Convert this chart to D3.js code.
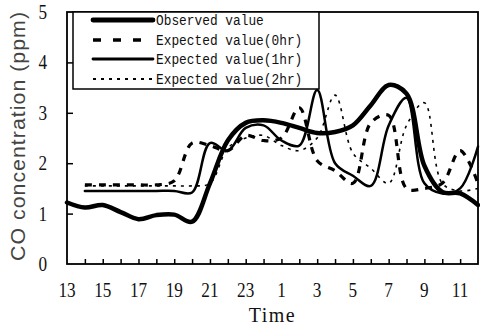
<!DOCTYPE html>
<html>
<head>
<meta charset="utf-8">
<script src="https://cdn.jsdelivr.net/npm/d3@7"></script>
<style>
  html, body { margin: 0; padding: 0; background: #fff; }
  svg { display: block; }
  .tick-lbl { font-family: "Liberation Serif", serif; font-size: 20px; fill: #111; }
  .leg-lbl  { font-family: "Liberation Mono", monospace; font-size: 14.5px; fill: #111; }
</style>
</head>
<body>
<svg id="chart" width="480" height="327"></svg>
<script>
/* hours after 13:00 */
var HOURS = [0, 1, 2, 3, 4, 5, 6, 7, 8, 9, 10, 11, 12, 13, 14, 15, 16, 17, 18, 19, 20, 21, 22, 23];
var TICK_HOURS = [0, 2, 4, 6, 8, 10, 12, 14, 16, 18, 20, 22];
var TICK_LABELS = ["13", "15", "17", "19", "21", "23", "1", "3", "5", "7", "9", "11"];
var Y_TICKS = [0, 1, 2, 3, 4, 5];

var observed = [1.22, 1.12, 1.17, 1.03, 0.89, 0.97, 0.98, 0.84, 1.6, 2.45, 2.8, 2.85,
                2.8, 2.7, 2.6, 2.62, 2.75, 3.15, 3.55, 3.38, 1.95, 1.43, 1.4, 1.17];
var expected0 = [null, 1.57, 1.57, 1.57, 1.57, 1.57, 1.65, 2.4, 2.35, 2.25, 2.55, 2.45,
                 2.5, 3.1, 2.05, 1.85, 1.6, 2.8, 2.95, 1.5, 1.5, 1.6, 2.25, 1.6];
var expected1 = [null, 1.45, 1.45, 1.45, 1.45, 1.45, 1.45, 1.42, 2.4, 2.25, 2.7, 2.75,
                 2.45, 2.35, 3.45, 2.0, 1.75, 1.55, 2.75, 3.3, 1.6, 1.4, 1.5, 2.33];
var expected2 = [null, 1.55, 1.55, 1.55, 1.55, 1.55, 1.55, 1.55, 1.6, 2.3, 2.5, 2.55,
                 2.35, 2.25, 2.5, 3.35, 2.2, 1.9, 1.6, 2.75, 3.2, 1.6, 1.45, 1.5];

var SERIES = [
    { name: "Observed value",       values: observed,  width: 4.5, dash: null },
    { name: "Expected value(0hr)",  values: expected0, width: 3.2, dash: "7,7" },
    { name: "Expected value(1hr)",  values: expected1, width: 2.5, dash: null },
    { name: "Expected value(2hr)",  values: expected2, width: 1.6, dash: "3,5" }
];

var L = 67, R = 478, T = 12, B = 264;
var svg = d3.select("#chart");

var x = d3.scaleLinear().domain([0, 23]).range([L, R]);
var y = d3.scaleLinear().domain([0, 5]).range([B, T]);

/* lines */
var line = d3.line()
    .defined(function (d) { return d.v != null; })
    .x(function (d) { return x(d.h); })
    .y(function (d) { return y(d.v); })
    .curve(d3.curveCatmullRom.alpha(0.5));

SERIES.forEach(function (s) {
    var pts = HOURS.map(function (h, i) { return { h: h, v: s.values[i] }; });
    svg.append("path")
        .datum(pts)
        .attr("d", line)
        .attr("fill", "none")
        .attr("stroke", "#000")
        .attr("stroke-width", s.width)
        .attr("stroke-linejoin", "round")
        .attr("stroke-linecap", s.dash ? "butt" : "round")
        .attr("stroke-dasharray", s.dash);
});

/* frame */
svg.append("rect")
    .attr("x", L).attr("y", T)
    .attr("width", R - L).attr("height", B - T)
    .attr("fill", "none").attr("stroke", "#000").attr("stroke-width", 1.8);

/* x axis, ticks point inward */
var xAxis = d3.axisBottom(x)
    .tickValues(HOURS.slice(1, 23))
    .tickSizeInner(-5).tickSizeOuter(0)
    .tickFormat("");
svg.append("g").attr("transform", "translate(0," + B + ")").call(xAxis)
    .call(function (g) { g.select(".domain").remove(); })
    .selectAll("line").attr("stroke", "#000").attr("stroke-width", 1.5);

svg.append("g").selectAll("text")
    .data(TICK_HOURS)
    .enter().append("text")
    .attr("class", "tick-lbl")
    .attr("text-anchor", "middle")
    .attr("transform", function (d) { return "translate(" + x(d) + ",297) scale(0.86,1.1)"; })
    .text(function (d, i) { return TICK_LABELS[i]; });

/* y axis */
var yAxis = d3.axisLeft(y)
    .tickValues(Y_TICKS.slice(1, 5))
    .tickSizeInner(-6).tickSizeOuter(0)
    .tickFormat("");
svg.append("g").attr("transform", "translate(" + L + ",0)").call(yAxis)
    .call(function (g) { g.select(".domain").remove(); })
    .selectAll("line").attr("stroke", "#000").attr("stroke-width", 1.5);

svg.append("g").selectAll("text")
    .data(Y_TICKS)
    .enter().append("text")
    .attr("class", "tick-lbl")
    .attr("text-anchor", "end")
    .attr("transform", function (d) { return "translate(47," + (y(d) + 7) + ") scale(0.86,1.1)"; })
    .text(function (d) { return d; });

/* axis titles */
svg.append("text")
    .attr("x", (L + R) / 2).attr("y", 322)
    .attr("text-anchor", "middle")
    .attr("font-family", "Liberation Serif, serif")
    .attr("font-size", 20)
    .attr("letter-spacing", 1.5)
    .attr("fill", "#111")
    .text("Time");

svg.append("text")
    .attr("transform", "translate(25,136) rotate(-90)")
    .attr("text-anchor", "middle")
    .attr("font-family", "Liberation Sans, sans-serif")
    .attr("font-size", 21)
    .attr("fill", "#444")
    .attr("letter-spacing", 1)
    .attr("textLength", 250)
    .attr("lengthAdjust", "spacingAndGlyphs")
    .text("CO concentration (ppm)");

/* legend */
var leg = svg.append("g");
leg.append("rect")
    .attr("x", 73).attr("y", T)
    .attr("width", 246).attr("height", 77)
    .attr("fill", "#fff").attr("stroke", "#000").attr("stroke-width", 1.5);

var ROW_Y = [20, 40, 59, 79];
SERIES.forEach(function (s, i) {
    leg.append("line")
        .attr("x1", 93).attr("x2", 153)
        .attr("y1", ROW_Y[i]).attr("y2", ROW_Y[i])
        .attr("stroke", "#000")
        .attr("stroke-width", s.width + 0.3)
        .attr("stroke-linecap", s.dash ? "butt" : "round")
        .attr("stroke-dasharray", s.dash ? (i === 1 ? "8,12" : "3,5") : null);
    leg.append("text")
        .attr("class", "leg-lbl")
        .attr("x", 156)
        .attr("y", ROW_Y[i] + 5)
        .attr("textLength", s.name.length * 7.7)
        .attr("lengthAdjust", "spacingAndGlyphs")
        .text(s.name);
});
</script>
</body>
</html>
